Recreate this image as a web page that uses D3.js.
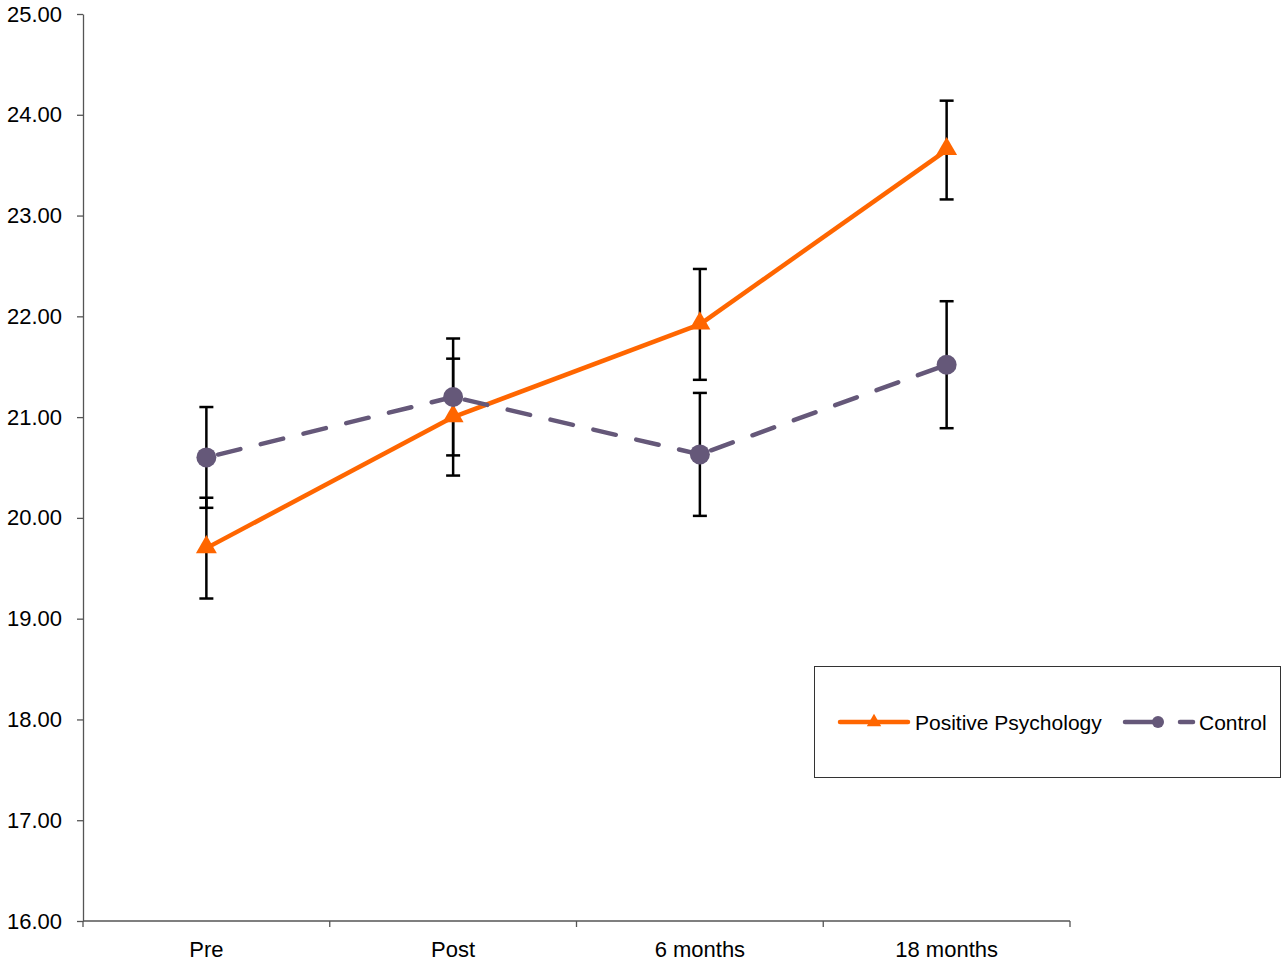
<!DOCTYPE html>
<html>
<head>
<meta charset="utf-8">
<script src="https://cdn.jsdelivr.net/npm/d3@7"></script>
<style>
  html, body { margin: 0; padding: 0; background: #fff; }
  svg { display: block; font-family: "Liberation Sans", Arial, sans-serif; }
</style>
</head>
<body>
<svg id="chart" width="1282" height="962"></svg>
<script>
// Time points and group means with error-bar half-widths
const timepoints = ["Pre", "Post", "6 months", "18 months"];
const positiveMeans = [19.70, 21.00, 21.92, 23.65];
const positiveErr = [0.50, 0.58, 0.55, 0.49];
const controlMeans = [20.60, 21.20, 20.63, 21.52];
const controlErr = [0.50, 0.58, 0.61, 0.63];
const yTicks = [16, 17, 18, 19, 20, 21, 22, 23, 24, 25];
const seriesNames = ["Positive Psychology", "Control"];

const orange = "#ff6600";
const purple = "#655879";

const svg = d3.select("#chart");
const plotLeft = 83, plotRight = 1070, plotTop = 14, plotBottom = 921;

const x = d3.scaleBand().domain(timepoints).range([plotLeft, plotRight]).padding(0);
const y = d3.scaleLinear().domain([16, 25]).range([plotBottom, plotTop]);
const cx = d => x(d) + x.bandwidth() / 2;

// Y axis
const yAxis = svg.append("g")
  .attr("transform", `translate(${plotLeft},0)`)
  .call(d3.axisLeft(y).tickValues(yTicks).tickFormat(d3.format(".2f")).tickSize(6).tickSizeOuter(0));
yAxis.select(".domain").attr("stroke", "#555").attr("stroke-width", 1.3);
yAxis.selectAll(".tick line").attr("stroke", "#555").attr("stroke-width", 1.3);
yAxis.selectAll(".tick text").attr("font-size", 22).attr("fill", "#000")
  .attr("font-family", "Liberation Sans, Arial, sans-serif").attr("x", -21);

// X axis with ticks on category boundaries
const xAxisG = svg.append("g").attr("transform", `translate(0,${plotBottom})`);
xAxisG.append("line").attr("x1", plotLeft).attr("x2", plotRight).attr("y1", 0).attr("y2", 0)
  .attr("stroke", "#555").attr("stroke-width", 1.3);
const bounds = timepoints.map(d => x(d)).concat([plotRight]);
xAxisG.selectAll("line.b").data(bounds).join("line").attr("class", "b")
  .attr("x1", d => d).attr("x2", d => d).attr("y1", 0).attr("y2", 6)
  .attr("stroke", "#555").attr("stroke-width", 1.3);
xAxisG.selectAll("text").data(timepoints).join("text")
  .attr("x", d => cx(d)).attr("y", 35.5).attr("text-anchor", "middle")
  .attr("font-size", 22).attr("fill", "#000").text(d => d);

// Error bars
function errorBars(means, errs) {
  const g = svg.append("g");
  timepoints.forEach((t, i) => {
    const xc = cx(t), hi = y(means[i] + errs[i]), lo = y(means[i] - errs[i]);
    g.append("line").attr("x1", xc).attr("x2", xc).attr("y1", hi).attr("y2", lo)
      .attr("stroke", "#000").attr("stroke-width", 2.5);
    [hi, lo].forEach(v => g.append("line").attr("x1", xc - 7).attr("x2", xc + 7)
      .attr("y1", v).attr("y2", v).attr("stroke", "#000").attr("stroke-width", 2.5));
  });
}
errorBars(positiveMeans, positiveErr);
errorBars(controlMeans, controlErr);

// Series lines: each segment drawn separately so dashes restart at each point
function seriesLine(means, color, dash) {
  const g = svg.append("g");
  for (let i = 0; i < means.length - 1; i++) {
    const l = g.append("line")
      .attr("x1", cx(timepoints[i])).attr("y1", y(means[i]))
      .attr("x2", cx(timepoints[i + 1])).attr("y2", y(means[i + 1]))
      .attr("stroke", color).attr("stroke-width", 4.5)
      .attr("stroke-linecap", dash ? "round" : "butt");
    if (dash) l.attr("stroke-dasharray", dash).attr("stroke-dashoffset", -12);
  }
}
seriesLine(positiveMeans, orange, null);
seriesLine(controlMeans, purple, "23,21");

// Markers
const tri = d3.symbol().type(d3.symbolTriangle).size(190);
svg.append("g").selectAll("path").data(positiveMeans).join("path")
  .attr("transform", (d, i) => `translate(${cx(timepoints[i])},${y(d) - 1})`)
  .attr("d", tri).attr("fill", orange);
svg.append("g").selectAll("circle").data(controlMeans).join("circle")
  .attr("cx", (d, i) => cx(timepoints[i])).attr("cy", d => y(d))
  .attr("r", 10).attr("fill", purple);

// Legend
const lg = svg.append("g");
lg.append("rect").attr("x", 814.5).attr("y", 666.5).attr("width", 466).attr("height", 111)
  .attr("fill", "#fff").attr("stroke", "#333").attr("stroke-width", 1);
const ly = 722;
lg.append("line").attr("x1", 840).attr("x2", 908).attr("y1", ly).attr("y2", ly)
  .attr("stroke", orange).attr("stroke-width", 4.5).attr("stroke-linecap", "round");
lg.append("path").attr("transform", `translate(874,${ly})`)
  .attr("d", d3.symbol().type(d3.symbolTriangle).size(90)).attr("fill", orange);
lg.append("text").attr("x", 915).attr("y", ly + 8).attr("font-size", 21).text(seriesNames[0]);
lg.append("line").attr("x1", 1125).attr("x2", 1156).attr("y1", ly).attr("y2", ly)
  .attr("stroke", purple).attr("stroke-width", 4.5).attr("stroke-linecap", "round");
lg.append("circle").attr("cx", 1158).attr("cy", ly).attr("r", 6).attr("fill", purple);
lg.append("line").attr("x1", 1180).attr("x2", 1193).attr("y1", ly).attr("y2", ly)
  .attr("stroke", purple).attr("stroke-width", 4.5).attr("stroke-linecap", "round");
lg.append("text").attr("x", 1199).attr("y", ly + 8).attr("font-size", 21).text(seriesNames[1]);
</script>
</body>
</html>
